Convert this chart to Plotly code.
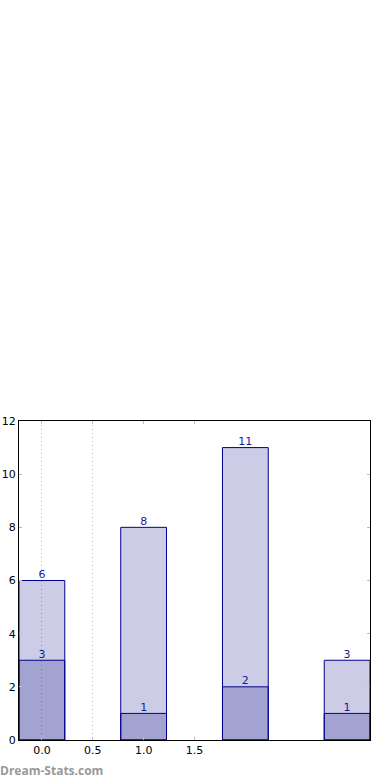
import plotly.graph_objects as go

positions = [0, 1, 2, 3]
totals = [6, 8, 11, 3]
subset = [3, 1, 2, 1]
x_ticks = [0.0, 0.5, 1.0, 1.5]
x_tick_labels = ["0.0", "0.5", "1.0", "1.5"]
y_ticks = [0, 2, 4, 6, 8, 10, 12]
grid_vals = [0.0, 0.5]

navy = "#00008b"
fill = "rgba(0,0,128,0.2)"
txt = "#1a1a9a"
font = "DejaVu Sans"

fig = go.Figure()
# invisible trace activating the secondary x axis that carries the dotted grid
fig.add_trace(go.Scatter(x=[positions[0]], y=[totals[0]], xaxis="x2", mode="markers",
                         marker=dict(opacity=0), showlegend=False, hoverinfo="skip"))
fig.add_trace(go.Bar(x=positions, y=totals, width=0.45, marker=dict(color=fill, line=dict(color=navy, width=1)),
                     hoverinfo="skip", showlegend=False))
fig.add_trace(go.Bar(x=positions, y=subset, width=0.45, marker=dict(color=fill, line=dict(color=navy, width=1)),
                     hoverinfo="skip", showlegend=False))
fig.add_trace(go.Scatter(x=positions, y=totals, mode="text", text=[str(v) for v in totals],
                         textposition="top center", textfont=dict(color=txt, size=11, family=font),
                         showlegend=False, hoverinfo="skip", cliponaxis=False))
fig.add_trace(go.Scatter(x=positions, y=subset, mode="text", text=[str(v) for v in subset],
                         textposition="top center", textfont=dict(color=txt, size=11, family=font),
                         showlegend=False, hoverinfo="skip", cliponaxis=False))

fig.update_layout(
    width=390, height=780,
    margin=dict(l=19, r=20, t=421, b=40),
    barmode="overlay",
    plot_bgcolor="white", paper_bgcolor="white",
    font=dict(family=font, size=11, color="black"),
    xaxis=dict(range=[-0.225, 3.225], tickvals=x_ticks, ticktext=x_tick_labels, automargin=False,
               ticks="inside", ticklen=3, tickcolor="#bbbbbb", showgrid=False,
               showline=True, linecolor="black", linewidth=1, mirror="ticks", zeroline=False),
    xaxis2=dict(range=[-0.225, 3.225], tickvals=grid_vals, overlaying="x", showticklabels=False,
                automargin=False, showgrid=True, gridcolor="#bbbbbb", griddash="1px,3px",
                gridwidth=1, zeroline=False),
    yaxis=dict(range=[0, 12], tickvals=y_ticks, ticks="inside", ticklen=3, tickcolor="#bbbbbb",
               automargin=False, showgrid=False, showline=True, linecolor="black", linewidth=1,
               mirror="ticks", zeroline=False),
    annotations=[dict(text="<b>Dream-Stats.com</b>", x=0, y=0, xref="paper", yref="paper",
                      xanchor="left", yanchor="top", xshift=-21, yshift=-20, showarrow=False,
                      font=dict(size=12, color="#999999", family="Open Sans"))],
)

fig.write_html("out.html", config={"displayModeBar": False},
               post_script="document.body.style.margin='0';")
